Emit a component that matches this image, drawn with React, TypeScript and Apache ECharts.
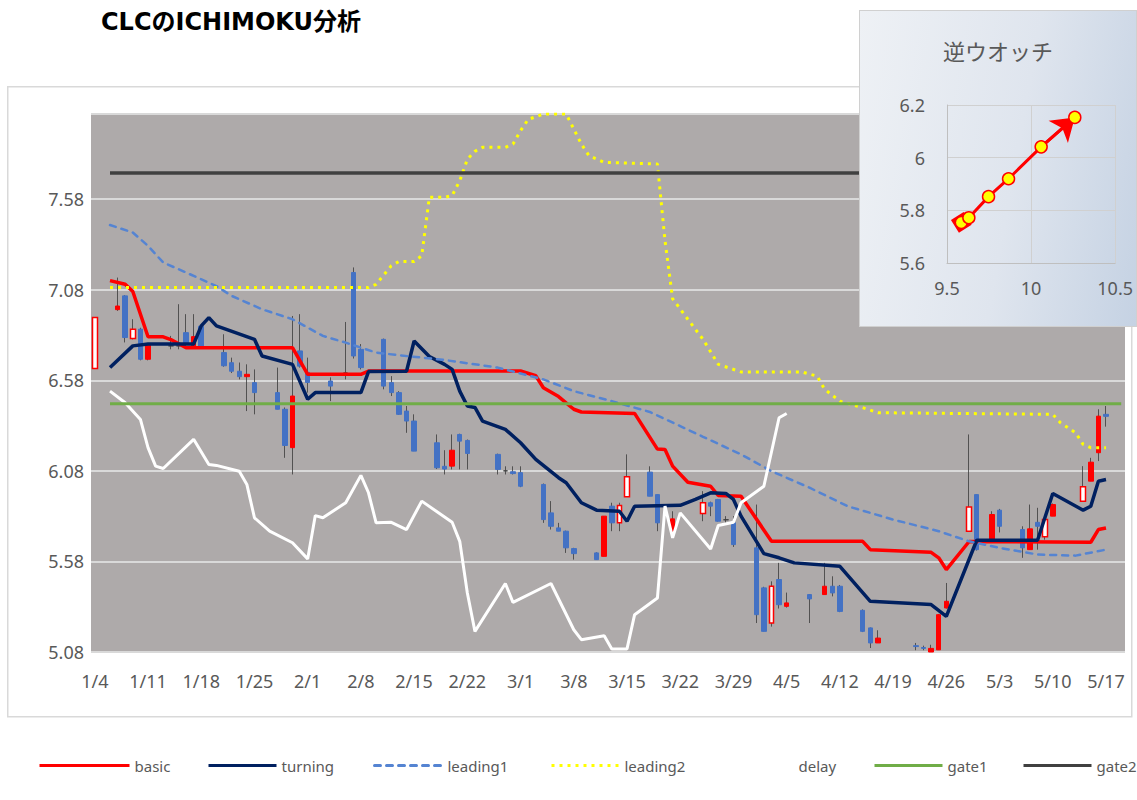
import React, { useEffect, useRef } from 'react';
import * as echarts from 'echarts';

// ---------- main chart data ----------
const weekLabels = ['1/4', '1/11', '1/18', '1/25', '2/1', '2/8', '2/15', '2/22', '3/1', '3/8', '3/15', '3/22', '3/29', '4/5', '4/12', '4/19', '4/26', '5/3', '5/10', '5/17'];
const dayCount = 136; // 1/4 .. 5/19, one category per calendar day
const yTicks = { min: 5.08, max: 8.05, step: 0.5 };

// [dayIndex, open, close, low, high]
const candles: number[][] = [
  [0, 6.645, 6.926, 6.645, 6.926],
  [3, 6.97, 6.99, 6.963, 7.147],
  [4, 7.046, 6.816, 6.789, 7.05],
  [5, 6.81, 6.862, 6.806, 6.917],
  [6, 6.862, 6.696, 6.69, 6.87],
  [7, 6.696, 6.779, 6.69, 6.78],
  [10, 6.77, 6.77, 6.751, 6.825],
  [11, 6.77, 6.77, 6.751, 7.0],
  [12, 6.843, 6.788, 6.77, 6.945],
  [13, 6.77, 6.821, 6.76, 6.945],
  [14, 6.878, 6.76, 6.76, 6.88],
  [17, 6.733, 6.66, 6.655, 6.834],
  [18, 6.677, 6.63, 6.62, 6.705],
  [19, 6.63, 6.6, 6.585, 6.678],
  [20, 6.6, 6.613, 6.41, 6.668],
  [21, 6.567, 6.512, 6.392, 6.64],
  [24, 6.512, 6.42, 6.42, 6.65],
  [25, 6.42, 6.22, 6.152, 6.43],
  [26, 6.208, 6.493, 6.06, 6.935],
  [27, 6.742, 6.658, 6.65, 6.945],
  [28, 6.624, 6.568, 6.512, 6.705],
  [31, 6.576, 6.548, 6.465, 6.596],
  [33, 6.62, 6.62, 6.585, 6.902],
  [34, 7.175, 6.714, 6.7, 7.203],
  [35, 6.751, 6.65, 6.64, 6.78],
  [38, 6.806, 6.548, 6.53, 6.81],
  [39, 6.567, 6.512, 6.493, 6.603],
  [40, 6.512, 6.392, 6.39, 6.52],
  [41, 6.41, 6.355, 6.29, 6.438],
  [42, 6.355, 6.189, 6.189, 6.392],
  [45, 6.235, 6.097, 6.09, 6.281],
  [46, 6.105, 6.09, 6.06, 6.194],
  [47, 6.106, 6.194, 6.088, 6.281],
  [48, 6.281, 6.244, 6.088, 6.285],
  [49, 6.248, 6.176, 6.088, 6.253],
  [53, 6.171, 6.088, 6.06, 6.175],
  [54, 6.08, 6.08, 6.06, 6.105],
  [55, 6.075, 6.065, 6.06, 6.105],
  [56, 6.07, 5.995, 5.99, 6.105],
  [59, 6.005, 5.811, 5.793, 6.01],
  [60, 5.848, 5.774, 5.756, 5.913],
  [61, 5.765, 5.747, 5.747, 5.793],
  [62, 5.747, 5.655, 5.627, 5.75],
  [63, 5.651, 5.623, 5.59, 5.655],
  [66, 5.627, 5.59, 5.59, 5.63],
  [67, 5.608, 5.83, 5.608, 5.83],
  [68, 5.885, 5.793, 5.747, 5.904],
  [69, 5.793, 5.889, 5.747, 5.904],
  [70, 5.937, 6.047, 5.937, 6.171],
  [73, 6.073, 5.94, 5.94, 6.105],
  [74, 5.949, 5.793, 5.747, 5.95],
  [76, 5.747, 5.815, 5.747, 5.857],
  [80, 5.845, 5.904, 5.802, 5.968],
  [81, 5.904, 5.885, 5.83, 5.91],
  [82, 5.922, 5.802, 5.8, 5.925],
  [83, 5.81, 5.81, 5.79, 5.83],
  [84, 5.793, 5.673, 5.66, 5.83],
  [87, 5.655, 5.286, 5.24, 5.894],
  [88, 5.434, 5.194, 5.194, 5.44],
  [89, 5.24, 5.443, 5.22, 5.47],
  [90, 5.48, 5.341, 5.32, 5.572],
  [91, 5.332, 5.351, 5.325, 5.408],
  [94, 5.397, 5.373, 5.24, 5.4],
  [96, 5.397, 5.443, 5.397, 5.572],
  [97, 5.443, 5.406, 5.387, 5.498],
  [98, 5.443, 5.304, 5.3, 5.45],
  [101, 5.31, 5.194, 5.19, 5.315],
  [102, 5.213, 5.13, 5.102, 5.215],
  [103, 5.13, 5.157, 5.13, 5.2],
  [108, 5.115, 5.11, 5.09, 5.13],
  [109, 5.105, 5.1, 5.09, 5.115],
  [110, 5.08, 5.1, 5.08, 5.12],
  [111, 5.092, 5.286, 5.092, 5.29],
  [112, 5.323, 5.36, 5.32, 5.461],
  [115, 5.747, 5.881, 5.747, 6.281],
  [116, 5.949, 5.645, 5.64, 5.95],
  [118, 5.691, 5.839, 5.691, 5.857],
  [119, 5.863, 5.774, 5.74, 5.87],
  [122, 5.756, 5.655, 5.6, 5.774],
  [123, 5.645, 5.76, 5.645, 5.894],
  [124, 5.796, 5.774, 5.645, 5.876],
  [125, 5.716, 5.811, 5.7, 5.83],
  [126, 5.83, 5.894, 5.83, 5.9],
  [130, 5.912, 5.992, 5.912, 6.106],
  [131, 6.023, 6.128, 6.023, 6.152],
  [132, 6.18, 6.382, 6.134, 6.42],
  [133, 6.392, 6.381, 6.324, 6.438],
];
const hollowDays = [0, 5, 69, 70, 80, 89, 115, 125, 130];

// [dayIndex, value]
const basic = [
  [2, 7.13], [4, 7.11], [5, 7.07], [7, 6.82], [9, 6.82], [10, 6.805], [12, 6.76], [26, 6.76], [28, 6.613],
  [35, 6.613], [36, 6.631], [56, 6.631], [58, 6.605], [59, 6.539], [61, 6.49], [63, 6.42], [64, 6.405],
  [71, 6.397], [74, 6.2], [75, 6.198], [76, 6.106], [78, 6.017], [81, 5.995], [82, 5.944], [85, 5.94],
  [89, 5.691], [101, 5.691], [102, 5.645], [110, 5.63], [111, 5.6], [112, 5.535], [115, 5.69],
  [131, 5.686], [132, 5.756], [133, 5.765],
];
const turning = [
  [2, 6.65], [5, 6.77], [7, 6.78], [13, 6.78], [14, 6.88], [15, 6.926], [16, 6.88], [21, 6.806], [22, 6.714],
  [26, 6.668], [28, 6.475], [29, 6.512], [35, 6.512], [36, 6.628], [41, 6.63], [42, 6.797], [44, 6.711],
  [46, 6.668], [47, 6.64], [48, 6.52], [49, 6.438], [50, 6.43], [51, 6.355], [54, 6.309], [56, 6.235],
  [58, 6.143], [61, 6.042], [62, 6.014], [64, 5.904], [66, 5.863], [69, 5.857], [70, 5.802], [71, 5.885],
  [77, 5.89], [79, 5.922], [81, 5.959], [83, 5.955], [84, 5.922], [85, 5.83], [88, 5.623], [90, 5.6],
  [92, 5.572], [98, 5.553], [102, 5.36], [110, 5.342], [112, 5.277], [116, 5.697], [124, 5.697],
  [126, 5.955], [130, 5.863], [131, 5.885], [132, 6.023], [133, 6.032],
];
const leading1 = [
  [2, 7.437], [5, 7.396], [7, 7.322], [9, 7.23], [12, 7.175], [16, 7.1], [18, 7.046], [22, 6.972],
  [26, 6.917], [30, 6.825], [33, 6.788], [37, 6.733], [40, 6.718], [46, 6.692], [53, 6.65], [59, 6.585],
  [63, 6.52], [68, 6.465], [73, 6.405], [77, 6.327], [80, 6.268], [85, 6.171], [89, 6.078], [94, 5.987],
  [99, 5.885], [105, 5.811], [111, 5.747], [115, 5.691], [119, 5.655], [124, 5.618], [129, 5.612], [133, 5.645],
];
const leading2 = [
  [2, 7.092], [36, 7.092], [37, 7.11], [39, 7.212], [40, 7.236], [42, 7.236], [43, 7.267], [44, 7.59],
  [46, 7.59], [47, 7.6], [48, 7.681], [49, 7.8], [50, 7.844], [51, 7.866], [54, 7.866], [55, 7.884],
  [56, 7.958], [57, 8.02], [59, 8.05], [62, 8.05], [63, 7.967], [64, 7.884], [65, 7.82], [67, 7.783],
  [74, 7.774], [75, 7.35], [76, 7.03], [78, 6.917], [80, 6.806], [82, 6.668], [85, 6.626], [93, 6.626],
  [95, 6.603], [96, 6.53], [98, 6.465], [101, 6.429], [103, 6.401], [126, 6.392], [127, 6.346],
  [129, 6.29], [130, 6.226], [131, 6.208], [133, 6.208],
];
const delay = [
  [2, 6.52], [4, 6.456], [6, 6.364], [7, 6.208], [8, 6.106], [9, 6.093], [13, 6.254], [15, 6.115],
  [16, 6.11], [19, 6.078], [20, 6.005], [21, 5.821], [23, 5.747], [26, 5.683], [28, 5.594], [29, 5.833],
  [30, 5.821], [33, 5.904], [35, 6.055], [36, 5.959], [37, 5.793], [39, 5.796], [41, 5.756], [43, 5.913],
  [47, 5.796], [48, 5.691], [49, 5.406], [50, 5.194], [54, 5.458], [55, 5.354], [60, 5.458], [63, 5.203],
  [64, 5.148], [67, 5.17], [68, 5.097], [70, 5.097], [71, 5.286], [74, 5.378], [75, 5.885], [76, 5.71],
  [77, 5.848], [81, 5.649], [82, 5.778], [84, 5.796], [85, 5.904], [88, 5.995], [90, 6.373], [91, 6.397],
];
const gate1 = [[2, 6.451], [135, 6.451]];
const gate2 = [[2, 7.724], [135, 7.724]];

// ---------- inset (逆ウオッチ) data ----------
const watchX = [9.585, 9.63, 9.747, 9.866, 10.06, 10.26];
const watchY = [5.754, 5.772, 5.852, 5.92, 6.041, 6.153];

const GREY_TEXT = '#595959';
const LABEL_FONT = "'Noto Sans', 'DejaVu Sans', sans-serif";

function lineSeries(name: string, data: number[][], color: string, width: number, type: any, cap = 'butt', z = 3) {
  return {
    name,
    type: 'line',
    data,
    symbol: 'none',
    showSymbol: false,
    z,
    silent: true,
    lineStyle: { color, width, type, cap },
    itemStyle: { color },
    emphasis: { disabled: true },
  };
}

function buildMain(): any {
  const days = Array.from({ length: dayCount }, (_, i) => String(i));
  const wickData = candles.map((c) => [c[0], c[3], c[4], c[3], c[4]]);
  const bodyData = candles.map((c) => {
    const value = [c[0], c[1], c[2], Math.min(c[1], c[2]), Math.max(c[1], c[2])];
    if (hollowDays.includes(c[0])) {
      return { value, itemStyle: { color: '#ffffff', borderColor: '#ff0000', borderWidth: 1.5 } };
    }
    if (c[1] === c[2]) {
      return { value, itemStyle: { color: '#404040', borderColor: '#404040', color0: '#404040', borderColor0: '#404040' } };
    }
    return { value };
  });

  const legendItems = [
    { name: 'basic', left: 33, w: 90 },
    { name: 'turning', left: 202, w: 68 },
    { name: 'leading1', left: 368, w: 68 },
    { name: 'leading2', left: 545, w: 68 },
    { name: 'delay', left: 719, w: 68 },
    { name: 'gate1', left: 868, w: 68 },
    { name: 'gate2', left: 1017, w: 68 },
  ];

  return {
    animation: false,
    backgroundColor: '#ffffff',
    title: {
      text: 'CLCのICHIMOKU分析',
      left: 96,
      top: 5,
      textStyle: { fontSize: 24, fontWeight: 'bold', color: '#000000', fontFamily: "'DejaVu Sans', 'Noto Sans CJK JP', sans-serif" },
    },
    graphic: [
      {
        type: 'rect',
        left: 7,
        top: 86,
        silent: true,
        shape: { width: 1124, height: 630 },
        style: { fill: 'transparent', stroke: '#d9d9d9', lineWidth: 1.5 },
      },
    ],
    legend: legendItems.map((l) => ({
      data: [l.name],
      left: l.left,
      top: 753,
      itemWidth: l.w,
      itemHeight: 14,
      selectedMode: false,
      itemStyle: { opacity: 0 },
      lineStyle: { width: 3 },
      textStyle: { color: GREY_TEXT, fontSize: 15, fontFamily: LABEL_FONT },
    })),
    grid: { left: 91, top: 114, width: 1034, height: 538, show: true, backgroundColor: '#aeaaaa', borderWidth: 0 },
    xAxis: {
      type: 'category',
      data: days,
      boundaryGap: true,
      axisTick: { show: false },
      axisLine: { show: false },
      splitLine: { show: false },
      axisLabel: {
        interval: 6,
        margin: 20,
        color: GREY_TEXT,
        fontSize: 18,
        fontFamily: LABEL_FONT,
        formatter: (_v: string, i: number) => (i % 7 === 0 && weekLabels[i / 7] ? weekLabels[i / 7] : ''),
      },
    },
    yAxis: {
      type: 'value',
      min: yTicks.min,
      max: yTicks.max,
      interval: yTicks.step,
      axisLine: { show: false },
      axisTick: { show: false },
      splitLine: { lineStyle: { color: '#d9d9d9', width: 2 } },
      axisLabel: {
        margin: 7,
        color: GREY_TEXT,
        fontSize: 18,
        fontFamily: LABEL_FONT,
        showMaxLabel: false,
        formatter: (v: number) => (v > 7.9 ? '' : v.toFixed(2)),
      },
    },
    series: [
      {
        name: 'wick',
        type: 'candlestick',
        data: wickData,
        encode: { x: 0, y: [1, 2, 3, 4] },
        barWidth: 1,
        silent: true,
        z: 2,
        itemStyle: { color: '#3a3a3a', color0: '#3a3a3a', borderColor: '#3a3a3a', borderColor0: '#3a3a3a', borderWidth: 0.8 },
      },
      {
        name: 'candle',
        type: 'candlestick',
        data: bodyData,
        encode: { x: 0, y: [1, 2, 3, 4] },
        barWidth: 5,
        silent: true,
        z: 2,
        itemStyle: { color: '#ff0000', color0: '#4472c4', borderColor: '#ff0000', borderColor0: '#4472c4', borderWidth: 1 },
      },
      lineSeries('basic', basic, '#ff0000', 3.5, 'solid'),
      lineSeries('turning', turning, '#002060', 3.5, 'solid'),
      lineSeries('leading1', leading1, '#5584d2', 2.5, [6, 6], 'round'),
      lineSeries('leading2', leading2, '#ffff00', 3, [3, 5], 'butt'),
      lineSeries('delay', delay, '#ffffff', 3, 'solid'),
      lineSeries('gate1', gate1, '#70ad47', 3, 'solid'),
      lineSeries('gate2', gate2, '#404040', 3.5, 'solid'),
    ],
  };
}

function buildInset(): any {
  const pts = watchX.map((x, i) => [x, watchY[i]]);
  const n = pts.length;
  return {
    animation: false,
    title: {
      text: '逆ウオッチ',
      left: 'center',
      top: 23,
      textStyle: { fontSize: 22, fontWeight: 'normal', color: GREY_TEXT, fontFamily: "'Noto Sans CJK JP', sans-serif" },
    },
    grid: { left: 87, right: 20, top: 94, bottom: 63 },
    xAxis: {
      type: 'value',
      min: 9.5,
      max: 10.5,
      interval: 0.5,
      axisLine: { show: true, lineStyle: { color: '#bfbfbf' } },
      axisTick: { show: false },
      splitLine: { lineStyle: { color: '#d0d0d0' } },
      axisLabel: { margin: 16, color: GREY_TEXT, fontSize: 18, fontFamily: LABEL_FONT },
    },
    yAxis: {
      type: 'value',
      min: 5.6,
      max: 6.2,
      interval: 0.2,
      axisLine: { show: true, lineStyle: { color: '#bfbfbf' } },
      axisTick: { show: false },
      splitLine: { lineStyle: { color: '#d0d0d0' } },
      axisLabel: { margin: 22, color: GREY_TEXT, fontSize: 18, fontFamily: LABEL_FONT },
    },
    series: [
      {
        type: 'lines',
        coordinateSystem: 'cartesian2d',
        data: [{ coords: [pts[0], pts[1]] }],
        symbol: ['rect', 'none'],
        symbolSize: 15,
        silent: true,
        z: 3,
        lineStyle: { color: '#ff0000', width: 3, opacity: 1 },
      },
      {
        type: 'lines',
        coordinateSystem: 'cartesian2d',
        data: [{ coords: [pts[n - 2], pts[n - 1]] }],
        symbol: ['none', 'arrow'],
        symbolSize: 22,
        silent: true,
        z: 3,
        lineStyle: { color: '#ff0000', width: 3, opacity: 1 },
      },
      {
        type: 'line',
        data: pts,
        symbol: 'circle',
        symbolSize: 12,
        silent: true,
        z: 5,
        lineStyle: { color: '#ff0000', width: 3 },
        itemStyle: { color: '#ffff00', borderColor: '#ff0000', borderWidth: 1.5 },
      },
    ],
  };
}

export default function App() {
  const mainRef = useRef<HTMLDivElement>(null);
  const insetRef = useRef<HTMLDivElement>(null);

  useEffect(() => {
    document.body.style.margin = '0';
    const main = echarts.init(mainRef.current!, null, { renderer: 'svg' });
    const inset = echarts.init(insetRef.current!, null, { renderer: 'svg' });
    main.setOption(buildMain());
    inset.setOption(buildInset());
    return () => {
      main.dispose();
      inset.dispose();
    };
  }, []);

  return (
    <div style={{ position: 'relative', width: 1137, height: 800, background: '#ffffff' }}>
      <div ref={mainRef} style={{ position: 'absolute', left: 0, top: 0, width: 1137, height: 800 }} />
      <div
        style={{
          position: 'absolute',
          left: 859,
          top: 10,
          width: 278,
          height: 317,
          boxSizing: 'border-box',
          border: '1px solid #d0d0d0',
          background: 'linear-gradient(100deg, #eef1f5 0%, #dfe5ee 55%, #c5d2e3 100%)',
        }}
      >
        <div ref={insetRef} style={{ position: 'absolute', left: 0, top: 0, width: 276, height: 315 }} />
      </div>
    </div>
  );
}
